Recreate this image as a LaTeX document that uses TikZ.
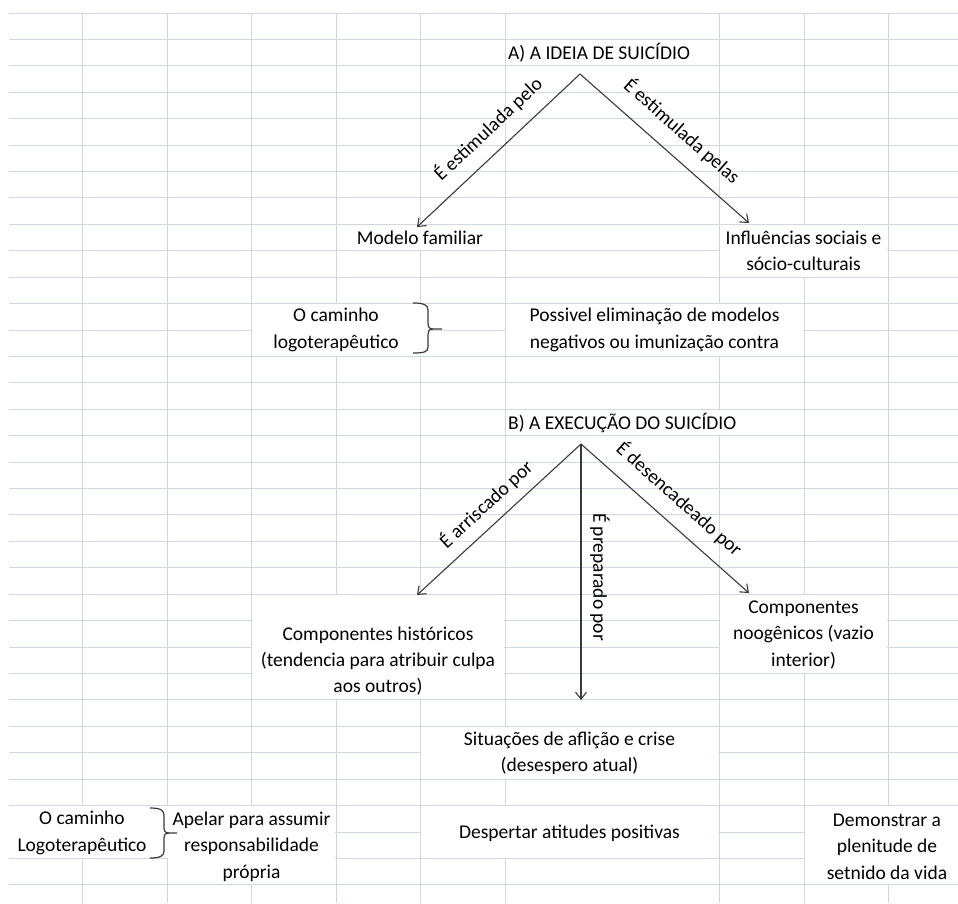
\documentclass[tikz,border=0pt]{standalone}
\usepackage{fontspec}
\setmainfont{Carlito}
\usetikzlibrary{arrows.meta}
\definecolor{gridc}{HTML}{D0D7E5}
\definecolor{inkc}{HTML}{3A3A3A}
\newcommand\cellcover[4]{\fill[white] ({#1+0.7},{13+26.42*#2+0.7}) rectangle ({#3-0.7},{13+26.42*#4-0.7});}
\begin{document}
\begin{tikzpicture}[x=1pt,y=-1pt,
  gridline/.style={draw=gridc,line width=1pt},
  cell/.style={inner sep=0pt,align=center,text=black,font=\fontsize{19.5}{26.42}\selectfont},
  lbl/.style={inner sep=0pt,text=black,font=\fontsize{19.5}{22}\selectfont},
  arr/.style={draw=inkc,line width=1.1pt,-{Straight Barb[length=7pt,width=11pt]}},
  bracec/.style={draw=inkc,line width=1.2pt,line join=round}]
\useasboundingbox (0,0) rectangle (958,903);
\fill[white] (0,0) rectangle (958,903);
% grid
\foreach \r in {0,...,33} \draw[gridline] (9,{13+26.42*\r}) -- (958,{13+26.42*\r});
\foreach \x in {82,167,251,336,420,505,719,804,888} \draw[gridline] (\x,13) -- (\x,903);
% merged cells / overflow covers
\cellcover{336}{8}{505}{9}
\cellcover{719}{8}{888}{10}
\cellcover{251}{11}{420}{13}
\cellcover{412}{11}{428}{13}
\cellcover{505}{11}{804}{13}
\cellcover{505}{15}{804}{16}
\cellcover{251}{22}{505}{26}
\cellcover{719}{22}{888}{25}
\cellcover{420}{27}{719}{29}
\cellcover{0}{30}{169}{32}
\cellcover{167}{30}{336}{33}
\cellcover{420}{30}{719}{32}
\cellcover{804}{30}{960}{33}
% texts
\node[cell,anchor=west] (titleA) at (508,52.6) {A) A IDEIA DE SUICÍDIO};
\node[cell] (modelo) at (420,237.6) {Modelo familiar};
\node[cell] (influ) at (803.5,251) {Influências sociais e\\sócio-culturais};
\node[cell] (cam1) at (336,330) {O caminho\\logoterapêutico};
\node[cell] (possivel) at (654.5,330) {Possivel eliminação de modelos\\negativos ou imunização contra};
\node[cell,anchor=west] (titleB) at (508,422.5) {B) A EXECUÇÃO DO SUICÍDIO};
\node[cell] (comphist) at (378,661) {Componentes históricos\\(tendencia para atribuir culpa\\aos outros)};
\node[cell] (compnoo) at (803.5,635) {Componentes\\noogênicos (vazio\\interior)};
\node[cell] (situ) at (569.5,753.5) {Situações de aflição e crise\\(desespero atual)};
\node[cell] (cam2) at (82,833) {O caminho\\Logoterapêutico};
\node[cell] (apelar) at (251.5,846.5) {Apelar para assumir\\responsabilidade\\própria};
\node[cell] (despertar) at (569.5,833) {Despertar atitudes positivas};
\node[cell] (demonstrar) at (887,846.5) {Demonstrar a\\plenitude de\\setnido da vida};
% arrows A
\coordinate (apexA) at (580,74);
\coordinate (tipA1) at (417,227);
\coordinate (tipA2) at (749,223);
\draw[arr] (apexA) -- (tipA1);
\draw[arr] (apexA) -- (tipA2);
\node[lbl,rotate=43.2] (lblA1) at (488,129) {É estimulada pelo};
\node[lbl,rotate=-41.4] (lblA2) at (682,131) {É estimulada pelas};
% arrows B
\coordinate (apexB) at (581,444);
\coordinate (tipB1) at (417,595);
\coordinate (tipB2) at (581,700);
\coordinate (tipB3) at (749,593);
\draw[arr] (apexB) -- (tipB1);
\draw[arr] (apexB) -- (tipB2);
\draw[arr] (apexB) -- (tipB3);
\node[lbl,rotate=42.6] (lblB1) at (486,504) {É arriscado por};
\node[lbl,rotate=-90] (lblB2) at (600,577) {É preparado por};
\node[lbl,rotate=-41.6] (lblB3) at (679.5,499) {É desencadeado por};
% braces
\draw[bracec] (413,303) .. controls (424,303) and (428,305) .. (428,310) -- (428,322) .. controls (428,327) and (429,329) .. (433,329) -- (442,329);
\draw[bracec] (433,329) .. controls (429,329) and (428,331) .. (428,336) -- (428,347) .. controls (428,352) and (424,353) .. (413,353);
\draw[bracec] (150,808) .. controls (160,808) and (164,810) .. (164,815) -- (164,827) .. controls (164,831) and (165,833) .. (169,833) -- (177,833);
\draw[bracec] (169,833) .. controls (165,833) and (164,835) .. (164,839) -- (164,851) .. controls (164,856) and (160,858) .. (150,858);
\end{tikzpicture}
\end{document}
